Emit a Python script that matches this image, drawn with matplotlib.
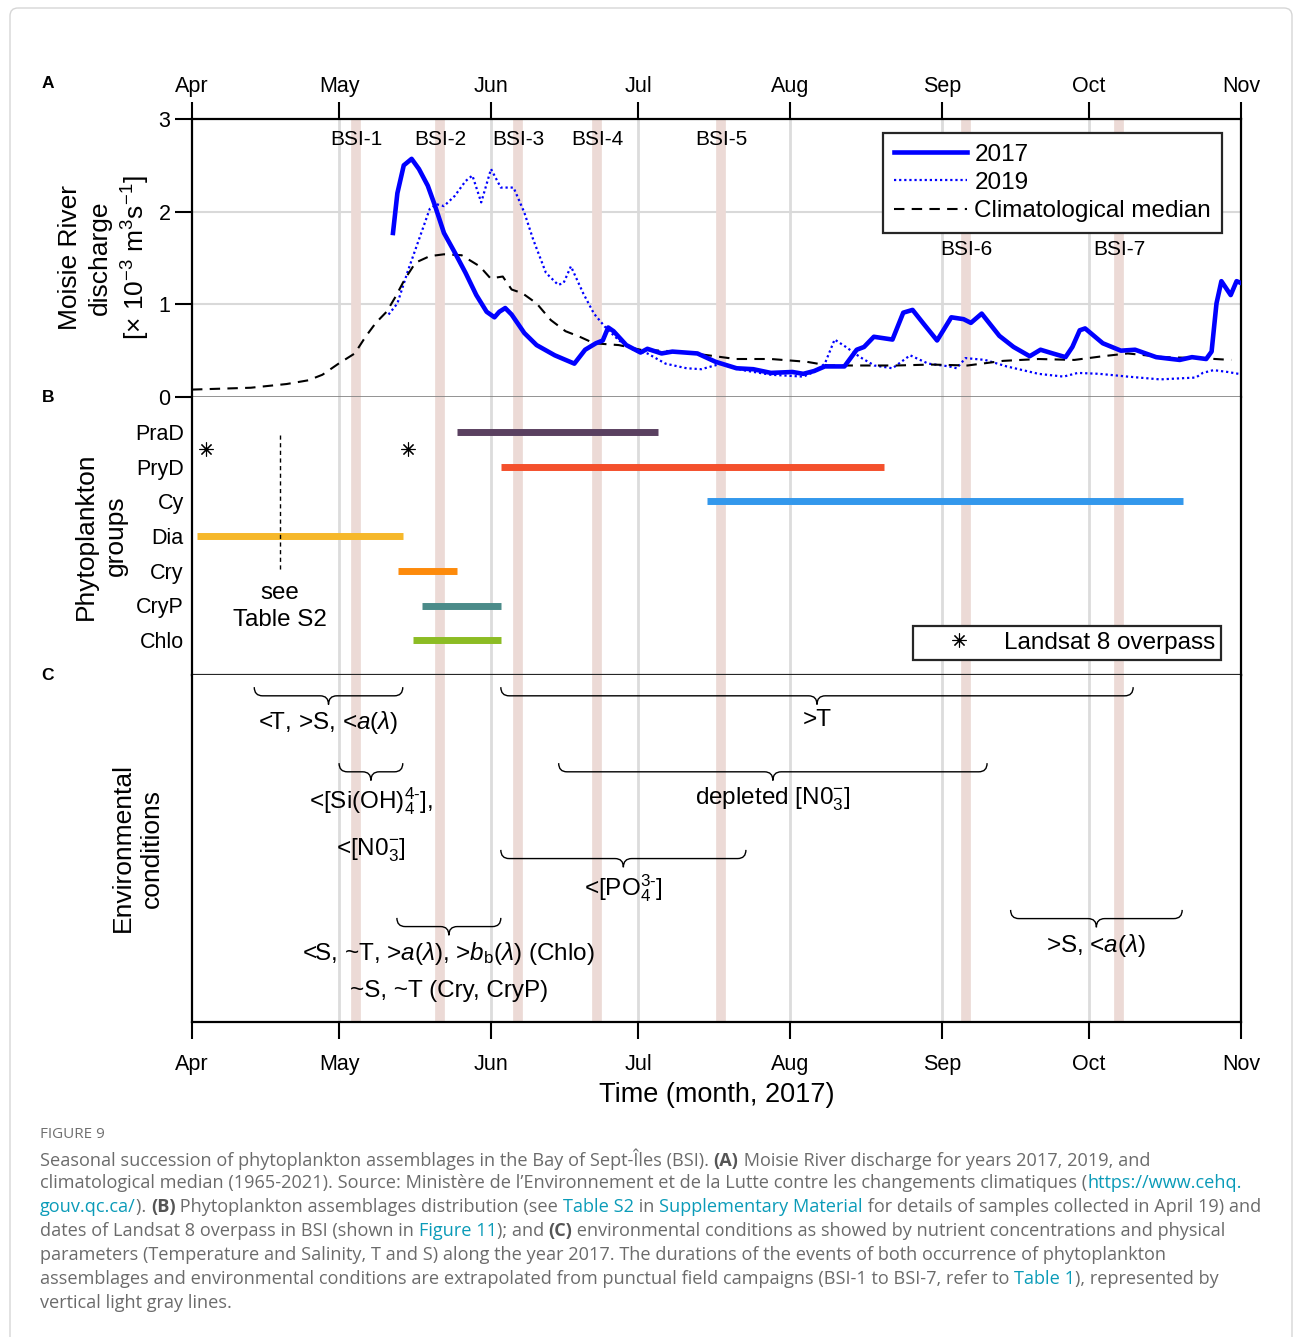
import matplotlib.pyplot as plt
from matplotlib.path import Path
from matplotlib.patches import PathPatch, FancyBboxPatch
from matplotlib.lines import Line2D

plt.rcParams['font.family'] = ['Liberation Sans', 'DejaVu Sans']
plt.rcParams['mathtext.fontset'] = 'custom'
plt.rcParams['mathtext.rm'] = 'Liberation Sans'
plt.rcParams['mathtext.it'] = 'Liberation Sans:italic'
plt.rcParams['mathtext.bf'] = 'Liberation Sans:bold'

# ---- data (x = day of year 2017) ----
month_doy = [91, 121, 152, 182, 213, 244, 274, 305]
month_lbl = ['Apr', 'May', 'Jun', 'Jul', 'Aug', 'Sep', 'Oct', 'Nov']

bsi_doy = [124.5, 141.6, 157.5, 173.6, 198.9, 248.9, 280.1]
bsi_lbl = ['BSI-1', 'BSI-2', 'BSI-3', 'BSI-4', 'BSI-5', 'BSI-6', 'BSI-7']

# A: Moisie River discharge (x 10^3 m3/s)
doy_2017 = [132, 132.9, 134.2, 135.8, 137.3, 139.1, 140.6, 142.4, 144.6, 146.8,
            149, 151.1, 152.7, 153.7, 154.9, 156.2, 158.8, 161.3, 165, 169,
            171.2, 173.4, 174.8, 175.9, 177, 179.6, 182.5, 183.9, 186.8, 189,
            194.1, 197.8, 202.1, 205.5, 209.1, 213.5, 215.7, 217.9, 220.1, 224.1,
            226.6, 228.1, 230.1, 233.9, 236.1, 238, 240.4, 243, 245.9, 248.4,
            249.9, 252.1, 255.7, 258.6, 261.9, 264.1, 266.6, 269.2, 270.6, 272.1,
            273.2, 276.8, 280.5, 283.4, 287.7, 292.5, 295, 297.9, 299, 300,
            301, 302.9, 304.1, 305]
q_2017 = [1.77, 2.2, 2.5, 2.57, 2.46, 2.28, 2.06, 1.77, 1.56, 1.34,
          1.10, 0.92, 0.86, 0.92, 0.96, 0.89, 0.69, 0.56, 0.45, 0.36,
          0.51, 0.58, 0.61, 0.75, 0.71, 0.56, 0.48, 0.52, 0.47, 0.49,
          0.47, 0.38, 0.31, 0.30, 0.26, 0.27, 0.25, 0.28, 0.33, 0.33,
          0.51, 0.54, 0.65, 0.62, 0.91, 0.94, 0.78, 0.61, 0.86, 0.84,
          0.80, 0.90, 0.66, 0.54, 0.44, 0.51, 0.47, 0.43, 0.54, 0.72,
          0.74, 0.58, 0.50, 0.51, 0.43, 0.40, 0.43, 0.41, 0.49, 1.01,
          1.25, 1.10, 1.25, 1.23]

doy_2019 = [131.1, 132.9, 135.1, 137.3, 139.5, 140.9, 142.4, 144.6, 146.8, 148.2,
            150, 152, 154, 156.6, 158.8, 160.6, 163.2, 165.7, 166.8, 168.3,
            170.8, 173, 175.2, 178.1, 181, 183.9, 187.6, 191.9, 194.9, 199,
            203.3, 209.1, 215.7, 217.9, 220.1, 222.1, 224.4, 227.3, 230.2, 233.9,
            237.5, 241.2, 245.5, 247, 248.8, 252.8, 257.2, 263.7, 268.8, 271.7,
            276.1, 281.9, 288.5, 295.8, 297.2, 299.4, 302.3, 304.5]
q_2019 = [0.89, 1.01, 1.37, 1.70, 2.03, 2.08, 2.06, 2.17, 2.33, 2.39,
          2.10, 2.46, 2.26, 2.26, 1.99, 1.70, 1.34, 1.21, 1.23, 1.41,
          1.12, 0.90, 0.76, 0.61, 0.51, 0.47, 0.36, 0.31, 0.30, 0.36,
          0.29, 0.24, 0.22, 0.27, 0.36, 0.62, 0.54, 0.43, 0.34, 0.31,
          0.45, 0.36, 0.33, 0.31, 0.42, 0.40, 0.33, 0.25, 0.22, 0.26,
          0.25, 0.22, 0.19, 0.21, 0.26, 0.29, 0.27, 0.25]

doy_med = [91, 103, 110.3, 114.7, 117.6, 120.9, 124.2, 126.4, 128.5, 130.7,
           132.5, 134.4, 136.6, 139.5, 142.4, 146, 149.7, 151.9, 154.4, 156.2,
           158.4, 161.3, 164.2, 167.2, 170.1, 173, 178.1, 182.5, 190.5, 196.3,
           201.9, 209.1, 216.4, 220.8, 227.3, 234.6, 241.9, 249.2, 256.5, 263.7,
           271, 276.8, 281.9, 289.2, 296.5, 303]
q_med = [0.08, 0.10, 0.14, 0.18, 0.24, 0.36, 0.47, 0.65, 0.80, 0.92,
         1.08, 1.27, 1.45, 1.52, 1.54, 1.53, 1.41, 1.28, 1.30, 1.16,
         1.12, 1.01, 0.83, 0.71, 0.65, 0.58, 0.56, 0.51, 0.49, 0.45,
         0.41, 0.41, 0.38, 0.34, 0.34, 0.34, 0.35, 0.34, 0.39, 0.41,
         0.40, 0.44, 0.47, 0.43, 0.42, 0.40]

# B: phytoplankton groups
groups = ['PraD', 'PryD', 'Cy', 'Dia', 'Cry', 'CryP', 'Chlo']
grp_start = [145.1, 154, 196, 92, 133, 138, 136.1]
grp_end = [186.1, 232.1, 293.2, 134, 145.1, 154, 154]
grp_color = ['#5a4060', '#f4502c', '#3398ec', '#f6b82b', '#fd8a0b', '#4b8b89', '#8cbc24']
landsat_doy = [93.9, 135.1]
sample_doy = 109

# C: environmental conditions (brace spans)
env_start = [103.7, 154, 121, 165.8, 154, 132.8, 258]
env_end = [134, 283, 134, 253.2, 204, 154, 293]
env_text = [r'<T, >S, <$a$($\lambda$)',
            '>T',
            '<[Si(OH)$_4^{4\\text{-}}$],\n<[N0$_3^{-}$]',
            'depleted [N0$_3^{-}$]',
            '<[PO$_4^{3\\text{-}}$]',
            '<S, ~T, >$a$($\\lambda$), >$b_\\mathrm{b}$($\\lambda$) (Chlo)\n~S, ~T (Cry, CryP)',
            r'>S, <$a$($\lambda$)']
env_level = [0.035, 0.035, 0.254, 0.254, 0.504, 0.70, 0.677]

# ---- figure ----
W, H = 1293, 1337
fig = plt.figure(figsize=(W / 100, H / 100), dpi=100)


def px_axes(left, top, right, bottom):
    return fig.add_axes([left / W, 1 - bottom / H, (right - left) / W, (bottom - top) / H])


ax_a = px_axes(192, 119, 1241, 397)
ax_b = px_axes(192, 397, 1241, 675)
ax_c = px_axes(192, 675, 1241, 1022)

for ax in (ax_a, ax_b, ax_c):
    ax.set_xlim(91, 305)
    ax.set_xticks(month_doy)
    for d in month_doy[1:-1]:
        ax.axvline(d, color='#dcdcdc', lw=2, zorder=0)
    for d in bsi_doy:
        ax.axvline(d, color='#ecdad6', lw=7, zorder=0.5)
    for s in ax.spines.values():
        s.set_linewidth(1.6)
    ax.tick_params(axis='both', labelsize=15.5, length=12, width=1.5, direction='out')

# panel A
ax_a.set_ylim(0, 3)
ax_a.set_yticks([0, 1, 2, 3])
for v in (1, 2):
    ax_a.axhline(v, color='#d9d9d9', lw=1.5, zorder=0)
ax_a.xaxis.tick_top()
ax_a.set_xticklabels(month_lbl)
ax_a.spines['bottom'].set_color('#808080')
ax_a.spines['bottom'].set_linewidth(1.2)
ax_a.plot(doy_2017, q_2017, color='#0000ff', lw=3.3, label='2017', zorder=3)
ax_a.plot(doy_2019, q_2019, color='#0000ff', lw=1.6, ls=(0, (1, 1.3)), label='2019', zorder=2)
ax_a.plot(doy_med, q_med, color='black', lw=1.5, dashes=(5, 3.5), label='Climatological median', zorder=2)
for i, (d, lbl) in enumerate(zip(bsi_doy, bsi_lbl)):
    ax_a.text(d, 2.78 if i < 5 else 1.59, lbl, ha='center', va='center', fontsize=15)
leg = ax_a.legend(loc='upper right', bbox_to_anchor=(0.982, 0.95), borderaxespad=0,
                  fontsize=17.5, handlelength=3.0, handletextpad=0.3, labelspacing=0.25,
                  borderpad=0.45, fancybox=False, framealpha=1, edgecolor='#262626')
leg.get_frame().set_linewidth(1.6)

# panel B
ax_b.set_ylim(8, 0)
ax_b.set_yticks(range(1, 8))
ax_b.set_yticklabels(groups)
ax_b.tick_params(axis='y', length=0, pad=6)
ax_b.tick_params(axis='x', length=0, labelbottom=False)
ax_b.spines['top'].set_visible(False)
ax_b.spines['bottom'].set_color('#262626')
ax_b.hlines(range(1, 8), grp_start, grp_end, colors=grp_color, lw=5, zorder=3)
ax_b.plot(landsat_doy, [1.5] * len(landsat_doy), ls='none', marker=(8, 2, 0),
          ms=10, mew=0.8, color='black', zorder=3)
ax_b.vlines(sample_doy, 1.1, 5.05, colors='black', lw=1, linestyles=(0, (3, 2.5)), zorder=3)
ax_b.text(sample_doy, 6.03, 'see\nTable S2', ha='center', va='center', fontsize=17.4,
          linespacing=1.3)
h_ls = Line2D([], [], ls='none', marker=(8, 2, 0), ms=10, mew=0.8, color='black')
leg_b = ax_b.legend([h_ls], ['Landsat 8 overpass'], loc='lower right',
                    bbox_to_anchor=(0.981, 0.054), borderaxespad=0, fontsize=17.5,
                    handlelength=3.3, handletextpad=0.2, borderpad=0.25, numpoints=1,
                    fancybox=False, framealpha=1, edgecolor='#262626')
leg_b.get_frame().set_linewidth(1.6)

# panel C
ax_c.set_ylim(1, 0)
ax_c.set_yticks([])
ax_c.spines['top'].set_visible(False)
ax_c.set_xticklabels(month_lbl)
ax_c.tick_params(axis='x', pad=11)
ax_c.set_xlabel('Time (month, 2017)', fontsize=19.5, labelpad=5)

r, h = 1.7, 0.025
line_sp = {2: 2.05, 5: 1.75}
for i, (x0, x1, y0, txt) in enumerate(zip(env_start, env_end, env_level, env_text)):
    xm = (x0 + x1) / 2
    verts = [(x0, y0), (x0, y0 + h), (x0 + r, y0 + h),
             (xm - r, y0 + h),
             (xm, y0 + h), (xm, y0 + 2 * h),
             (xm, y0 + h), (xm + r, y0 + h),
             (x1 - r, y0 + h),
             (x1, y0 + h), (x1, y0)]
    codes = [Path.MOVETO, Path.CURVE3, Path.CURVE3, Path.LINETO, Path.CURVE3, Path.CURVE3,
             Path.CURVE3, Path.CURVE3, Path.LINETO, Path.CURVE3, Path.CURVE3]
    ax_c.add_patch(PathPatch(Path(verts, codes), fill=False, lw=1, color='black', zorder=3))
    ax_c.text(xm, y0 + 2 * h + 0.014, txt, ha='center', va='top', fontsize=17.5,
              linespacing=line_sp.get(i, 1.2), zorder=3)

# y labels and panel letters
fig.text(105 / W, 1 - 258 / H, 'Moisie River\ndischarge\n[$\\times$ 10$^{-3}$ m$^3$s$^{-1}$]',
         rotation=90, ha='center', va='center', fontsize=19, linespacing=1.3)
fig.text(101 / W, 1 - 536 / H, 'Phytoplankton\ngroups', rotation=90, ha='center',
         va='center', fontsize=19, linespacing=1.3)
fig.text(137 / W, 1 - 848 / H, 'Environmental\nconditions', rotation=90, ha='center',
         va='center', fontsize=19, linespacing=1.25)
for lbl, y in (('A', 83), ('B', 397), ('C', 676)):
    fig.text(48 / W, 1 - y / H, lbl, ha='center', va='center', fontsize=12.5, weight='bold')

# ---- caption ----
cap = fig.add_axes([0, 0, 1, 1], zorder=-5)
cap.set_xlim(0, W)
cap.set_ylim(H, 0)
cap.axis('off')
cap.add_patch(FancyBboxPatch((10, 8), 1282, 1400, boxstyle='round,pad=0,rounding_size=8',
                             fill=False, ec='#d6d6d6', lw=1))

txt_col, link_col, bold_col = '#6b6b6b', '#0a9bb8', '#555555'
cap.text(40, 1135, 'FIGURE 9', fontsize=11, color='#707070', family='Open Sans',
         va='center', ha='left')
caption = [
    [('Seasonal succession of phytoplankton assemblages in the Bay of Sept-Îles (BSI). ', 'n'),
     ('(A)', 'b'), (' Moisie River discharge for years 2017, 2019, and', 'n')],
    [('climatological median (1965-2021). Source: Ministère de l\u2019Environnement et de la Lutte '
      'contre les changements climatiques (', 'n'), ('https://www.cehq.', 'l')],
    [('gouv.qc.ca/', 'l'), ('). ', 'n'), ('(B)', 'b'),
     (' Phytoplankton assemblages distribution (see ', 'n'), ('Table S2', 'l'), (' in ', 'n'),
     ('Supplementary Material', 'l'), (' for details of samples collected in April 19) and', 'n')],
    [('dates of Landsat 8 overpass in BSI (shown in ', 'n'), ('Figure 11', 'l'), ('); and ', 'n'),
     ('(C)', 'b'), (' environmental conditions as showed by nutrient concentrations and physical', 'n')],
    [('parameters (Temperature and Salinity, T and S) along the year 2017. The durations of the '
      'events of both occurrence of phytoplankton', 'n')],
    [('assemblages and environmental conditions are extrapolated from punctual field campaigns '
      '(BSI-1 to BSI-7, refer to ', 'n'), ('Table 1', 'l'), ('), represented by', 'n')],
    [('vertical light gray lines.', 'n')],
]
for i, parts in enumerate(caption):
    y = 1159 + 24 * i
    prev = None
    for s, kind in parts:
        kw = dict(fontsize=13.1, family='Open Sans',
                  color={'n': txt_col, 'l': link_col, 'b': bold_col}[kind],
                  weight='bold' if kind == 'b' else 'normal')
        if prev is None:
            prev = cap.text(40, y, s, va='center', ha='left', **kw)
        else:
            prev = cap.annotate(s, xy=(1, 0), xycoords=prev, va='bottom', ha='left', **kw)

fig.savefig('out.png', dpi=100)
